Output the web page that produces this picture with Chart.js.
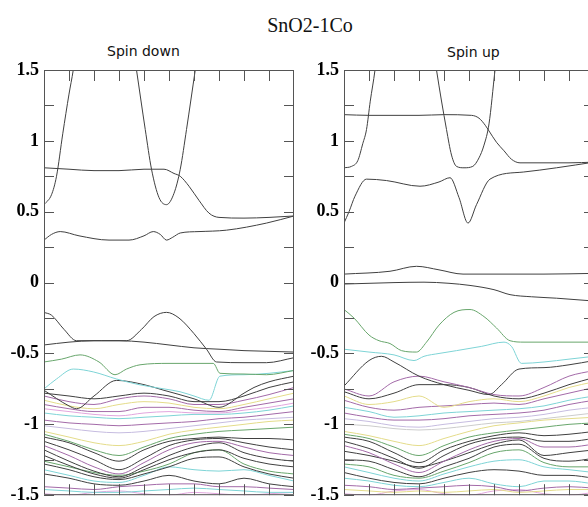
<!DOCTYPE html>
<html>
<head>
<meta charset="utf-8">
<script src="https://cdn.jsdelivr.net/npm/chart.js@4.4.1/dist/chart.umd.min.js"></script>
<style>
  body { margin: 0; width: 588px; height: 507px; overflow: hidden; background: #fff; position: relative; }
  canvas { position: absolute; top: 50px; }
  .txt { position: absolute; white-space: nowrap; color: #111; }
  #title { left: 0; width: 620px; top: 15px; text-align: center; font: 20px/20px "Liberation Serif", serif; }
  #sub1 { left: 107px; top: 44px; font: 14px/14px "DejaVu Sans", sans-serif; }
  #sub2 { left: 447px; top: 45px; font: 14px/14px "DejaVu Sans", sans-serif; }
</style>
</head>
<body>
<div id="title" class="txt">SnO2-1Co</div>
<div id="sub1" class="txt">Spin down</div>
<div id="sub2" class="txt">Spin up</div>
<canvas id="down" width="300" height="461" style="left:0px"></canvas>
<canvas id="up" width="300" height="461" style="left:300px"></canvas>
<script>
// k-path positions (0..10) and energies (eV)
const kGrid = [0, 1, 2, 3, 4, 5, 6, 7, 8, 9, 10];
const yLabels = [1.5, 1, 0.5, 0, -0.5, -1, -1.5];

const BLK = '#404040', PUR = '#a36aa8', YEL = '#e4dc8a', CYA = '#7ed4d6',
      GRN = '#68a66c', PNK = '#e2a6de', LAV = '#c6bce0', GRY = '#cccccc';

// ---- spin down ----
const dnA_k = [0, 0.3, 0.5, 0.75, 1.0, 1.17, 1.4];
const dnA_e = [0.55, 0.62, 0.75, 1.05, 1.33, 1.5, 1.8];
const dnB_k = [3.45, 3.7, 4.05, 4.3, 4.6, 4.9, 5.2, 5.45, 5.7, 6.05, 6.3];
const dnB_e = [1.8, 1.5, 1.08, 0.8, 0.6, 0.55, 0.63, 0.8, 1.08, 1.5, 1.8];
const dnC_k = [0, 1, 2, 3, 4, 4.8, 5.2, 5.45, 5.8, 6.2, 6.6, 7, 8, 9, 10];
const dnC_e = [0.81, 0.80, 0.79, 0.79, 0.80, 0.80, 0.77, 0.75, 0.68, 0.58, 0.49, 0.46, 0.455, 0.46, 0.47];
const dnD_k = [0, 0.3, 0.65, 1.4, 2.6, 3.4, 4.0, 4.37, 4.65, 4.9, 5.15, 5.45, 6.2, 7.3, 8.9, 10];
const dnD_e = [0.30, 0.34, 0.36, 0.33, 0.30, 0.30, 0.33, 0.36, 0.34, 0.30, 0.32, 0.35, 0.36, 0.37, 0.42, 0.47];
const dnE_k = [0, 0.3, 0.8, 1.3, 2.3, 3.3, 3.9, 4.4, 4.9, 5.4, 6.0, 6.5, 6.9, 8, 8.9, 10];
const dnE_e = [-0.21, -0.23, -0.33, -0.41, -0.41, -0.41, -0.33, -0.24, -0.21, -0.25, -0.36, -0.47, -0.56, -0.565, -0.565, -0.53];
const dnF_e = [-0.44, -0.42, -0.41, -0.41, -0.42, -0.44, -0.46, -0.47, -0.48, -0.485, -0.49];
const dnG_k = [0, 0.7, 1.44, 2.2, 2.84, 3.3, 3.84, 5, 6.0, 6.77, 7.04, 8, 8.9, 10];
const dnG_e = [-0.56, -0.54, -0.51, -0.56, -0.65, -0.61, -0.58, -0.57, -0.57, -0.57, -0.64, -0.645, -0.65, -0.62];
const dnH_k = [0, 0.5, 1.17, 1.97, 2.9, 3.8, 4.8, 5.44, 6.0, 6.6, 7.04, 8, 9, 10];
const dnH_e = [-0.75, -0.68, -0.61, -0.63, -0.68, -0.72, -0.75, -0.77, -0.80, -0.83, -0.66, -0.65, -0.64, -0.62];
const dnI_k = [0, 1, 1.3, 2, 2.9, 4, 4.8, 6, 7, 8, 8.4, 9, 10];
const dnI_e = [-0.76, -0.87, -0.89, -0.80, -0.69, -0.72, -0.76, -0.82, -0.88, -0.78, -0.74, -0.70, -0.66];
// dense valence bands on kGrid: [colour, energies]
const dnBands = [
  [BLK, [-0.78, -0.80, -0.82, -0.80, -0.78, -0.80, -0.84, -0.84, -0.80, -0.74, -0.70]],
  [PUR, [-0.80, -0.84, -0.86, -0.82, -0.80, -0.82, -0.86, -0.86, -0.83, -0.79, -0.74]],
  [YEL, [-0.83, -0.87, -0.89, -0.86, -0.84, -0.85, -0.88, -0.89, -0.86, -0.82, -0.78]],
  [PUR, [-0.86, -0.89, -0.91, -0.91, -0.88, -0.88, -0.90, -0.91, -0.88, -0.85, -0.82]],
  [PNK, [-0.89, -0.91, -0.93, -0.94, -0.92, -0.91, -0.92, -0.92, -0.90, -0.88, -0.85]],
  [CYA, [-0.92, -0.94, -0.95, -0.96, -0.95, -0.94, -0.93, -0.93, -0.92, -0.90, -0.87]],
  [PUR, [-0.97, -0.99, -1.00, -1.01, -1.00, -0.99, -0.98, -0.96, -0.95, -0.93, -0.91]],
  [LAV, [-1.01, -1.03, -1.05, -1.06, -1.05, -1.03, -1.01, -0.99, -0.97, -0.96, -0.95]],
  [YEL, [-1.05, -1.09, -1.13, -1.15, -1.12, -1.07, -1.04, -1.02, -1.00, -0.98, -0.97]],
  [GRN, [-1.07, -1.12, -1.18, -1.22, -1.16, -1.10, -1.07, -1.05, -1.04, -1.03, -1.02]],
  [BLK, [-1.09, -1.13, -1.20, -1.26, -1.18, -1.12, -1.10, -1.09, -1.10, -1.10, -1.11]],
  [BLK, [-1.12, -1.18, -1.25, -1.32, -1.24, -1.15, -1.11, -1.10, -1.13, -1.16, -1.18]],
  [PUR, [-1.15, -1.22, -1.30, -1.35, -1.27, -1.18, -1.13, -1.12, -1.16, -1.20, -1.22]],
  [BLK, [-1.18, -1.26, -1.33, -1.37, -1.30, -1.22, -1.16, -1.13, -1.20, -1.24, -1.26]],
  [BLK, [-1.22, -1.29, -1.35, -1.38, -1.32, -1.25, -1.20, -1.18, -1.24, -1.28, -1.30]],
  [GRN, [-1.26, -1.30, -1.34, -1.36, -1.33, -1.28, -1.20, -1.18, -1.28, -1.33, -1.35]],
  [BLK, [-1.28, -1.32, -1.37, -1.39, -1.35, -1.30, -1.24, -1.23, -1.30, -1.35, -1.38]],
  [CYA, [-1.32, -1.36, -1.40, -1.41, -1.36, -1.30, -1.32, -1.33, -1.32, -1.36, -1.40]],
  [BLK, [-1.35, -1.38, -1.42, -1.43, -1.40, -1.36, -1.40, -1.42, -1.38, -1.42, -1.44]],
  [PUR, [-1.44, -1.45, -1.46, -1.44, -1.43, -1.42, -1.42, -1.44, -1.44, -1.45, -1.46]],
  [CYA, [-1.46, -1.47, -1.48, -1.48, -1.47, -1.46, -1.45, -1.46, -1.47, -1.48, -1.48]],
  [PNK, [-1.49, -1.50, -1.48, -1.47, -1.49, -1.50, -1.48, -1.49, -1.50, -1.49, -1.48]]
];

// ---- spin up ----
const upA_k = [0, 0.3, 0.55, 0.75, 0.9, 1.05, 1.24, 1.4];
const upA_e = [0.81, 0.82, 0.86, 0.98, 1.08, 1.28, 1.5, 1.75];
const upB_k = [3.5, 3.7, 4.1, 4.3, 4.5, 4.8, 5.15, 5.4, 5.6, 5.8, 6.04, 6.2];
const upB_e = [1.75, 1.5, 1.08, 0.9, 0.82, 0.81, 0.82, 0.88, 0.97, 1.12, 1.5, 1.75];
const upC_k = [0, 1, 2, 3, 4, 5.1, 5.4, 5.65, 5.8, 6.1, 6.4, 6.7, 7.04, 8, 9, 10];
const upC_e = [1.185, 1.18, 1.18, 1.18, 1.185, 1.18, 1.16, 1.11, 1.07, 0.99, 0.93, 0.87, 0.845, 0.845, 0.845, 0.85];
const upD_k = [0, 0.2, 0.44, 0.9, 1.7, 3.04, 3.8, 4.24, 4.6, 4.96, 5.3, 5.84, 7.17, 8.5, 10];
const upD_e = [0.42, 0.5, 0.61, 0.73, 0.72, 0.68, 0.71, 0.74, 0.6, 0.42, 0.55, 0.73, 0.78, 0.81, 0.85];
const upE_k = [0, 1.84, 2.9, 3.8, 4.76, 6, 8, 10];
const upE_e = [0.06, 0.08, 0.115, 0.09, 0.06, 0.06, 0.06, 0.065];
const upF_k = [0, 1, 2, 3.2, 4.2, 5.04, 6, 6.64, 7.5, 8.5, 10];
const upF_e = [-0.01, -0.005, 0.0, 0.003, -0.005, -0.02, -0.05, -0.085, -0.1, -0.11, -0.13];
const upG_k = [0, 0.4, 1.0, 1.4, 1.84, 2.3, 2.9, 3.3, 3.8, 4.4, 5.04, 5.6, 6.1, 6.64, 7.2, 8, 9, 10];
const upG_e = [-0.19, -0.25, -0.37, -0.41, -0.43, -0.48, -0.49, -0.42, -0.3, -0.21, -0.19, -0.24, -0.32, -0.41, -0.42, -0.42, -0.42, -0.42];
const upH_k = [0, 1, 2, 2.8, 3.2, 3.8, 4.5, 5.5, 6.4, 6.7, 7.1, 8, 9, 10];
const upH_e = [-0.47, -0.49, -0.51, -0.55, -0.52, -0.50, -0.48, -0.45, -0.42, -0.45, -0.57, -0.56, -0.54, -0.52];
const upI_k = [0, 1, 1.5, 2, 3, 4, 5, 5.8, 6.3, 7, 8, 9, 10];
const upI_e = [-0.73, -0.55, -0.52, -0.56, -0.66, -0.72, -0.76, -0.79, -0.72, -0.61, -0.60, -0.58, -0.55];
const upBands = [
  [PUR, [-0.75, -0.80, -0.70, -0.66, -0.70, -0.74, -0.79, -0.80, -0.74, -0.66, -0.62]],
  [BLK, [-0.77, -0.82, -0.78, -0.72, -0.72, -0.74, -0.80, -0.82, -0.78, -0.72, -0.67]],
  [YEL, [-0.80, -0.86, -0.84, -0.80, -0.88, -0.84, -0.82, -0.84, -0.80, -0.74, -0.70]],
  [PUR, [-0.83, -0.88, -0.90, -0.88, -0.87, -0.86, -0.85, -0.86, -0.82, -0.78, -0.74]],
  [CYA, [-0.88, -0.91, -0.95, -0.94, -0.92, -0.91, -0.90, -0.89, -0.87, -0.83, -0.80]],
  [PUR, [-0.92, -0.95, -0.97, -0.97, -0.96, -0.94, -0.93, -0.92, -0.90, -0.86, -0.83]],
  [LAV, [-0.96, -0.98, -1.01, -1.02, -1.00, -0.98, -0.96, -0.95, -0.93, -0.90, -0.88]],
  [GRY, [-1.00, -1.01, -1.03, -1.04, -1.03, -1.01, -0.99, -0.98, -0.96, -0.94, -0.92]],
  [YEL, [-1.05, -1.08, -1.12, -1.15, -1.10, -1.05, -1.01, -0.99, -0.97, -0.96, -0.95]],
  [GRN, [-1.07, -1.10, -1.16, -1.22, -1.15, -1.09, -1.06, -1.04, -1.02, -1.00, -0.99]],
  [BLK, [-1.09, -1.12, -1.20, -1.27, -1.18, -1.12, -1.08, -1.06, -1.08, -1.07, -1.05]],
  [BLK, [-1.12, -1.17, -1.24, -1.31, -1.22, -1.14, -1.10, -1.09, -1.12, -1.12, -1.10]],
  [PUR, [-1.15, -1.20, -1.28, -1.34, -1.26, -1.18, -1.12, -1.10, -1.16, -1.16, -1.14]],
  [BLK, [-1.19, -1.22, -1.26, -1.30, -1.26, -1.20, -1.14, -1.11, -1.22, -1.20, -1.18]],
  [BLK, [-1.25, -1.26, -1.32, -1.37, -1.30, -1.24, -1.16, -1.14, -1.24, -1.26, -1.24]],
  [GRN, [-1.28, -1.30, -1.36, -1.38, -1.33, -1.27, -1.20, -1.18, -1.27, -1.30, -1.30]],
  [CYA, [-1.30, -1.34, -1.38, -1.40, -1.35, -1.30, -1.26, -1.25, -1.30, -1.32, -1.34]],
  [BLK, [-1.34, -1.38, -1.41, -1.42, -1.38, -1.34, -1.32, -1.33, -1.36, -1.36, -1.38]],
  [CYA, [-1.38, -1.40, -1.43, -1.44, -1.41, -1.38, -1.42, -1.44, -1.40, -1.40, -1.42]],
  [PUR, [-1.43, -1.44, -1.46, -1.45, -1.44, -1.43, -1.44, -1.47, -1.45, -1.44, -1.45]],
  [YEL, [-1.46, -1.47, -1.48, -1.47, -1.48, -1.47, -1.46, -1.48, -1.47, -1.46, -1.46]],
  [PNK, [-1.49, -1.50, -1.47, -1.46, -1.49, -1.50, -1.47, -1.46, -1.49, -1.50, -1.48]]
];

function band(ks, es, color) {
  return {
    data: ks.map((k, i) => ({ x: k, y: es[i] })),
    borderColor: color,
    borderWidth: 1,
    pointRadius: 0,
    fill: false,
    cubicInterpolationMode: 'monotone'
  };
}

// frame with inward ticks on all four sides
const framePlugin = {
  id: 'frame',
  afterDatasetsDraw(chart) {
    const { ctx, chartArea: a, scales: { x, y } } = chart;
    ctx.save();
    ctx.strokeStyle = '#555';
    ctx.lineWidth = 1;
    ctx.beginPath();
    ctx.rect(a.left + 0.5, a.top + 0.5, a.right - a.left - 1, a.bottom - a.top - 1);
    for (let i = 0; i <= 12; i++) {
      const p = Math.round(y.getPixelForValue(-1.5 + i * 0.25)) + 0.5;
      ctx.moveTo(a.left, p); ctx.lineTo(a.left + 10, p);
      ctx.moveTo(a.right, p); ctx.lineTo(a.right - 10, p);
    }
    for (let k = 1; k < 10; k++) {
      const p = Math.round(x.getPixelForValue(k)) + 0.5;
      ctx.moveTo(p, a.top); ctx.lineTo(p, a.top + 11);
      ctx.moveTo(p, a.bottom); ctx.lineTo(p, a.bottom - 11);
    }
    ctx.stroke();
    ctx.restore();
  }
};

function makeChart(id, datasets) {
  return new Chart(document.getElementById(id), {
    type: 'line',
    data: { datasets: datasets },
    options: {
      responsive: false,
      animation: false,
      layout: { padding: { left: 0, right: 6, top: 20, bottom: 12 } },
      plugins: { legend: { display: false }, tooltip: { enabled: false } },
      scales: {
        x: { type: 'linear', min: 0, max: 10, display: false },
        y: {
          min: -1.5,
          max: 1.5,
          afterFit: function(scale) { scale.width = 44; },
          grid: { display: false, drawTicks: false },
          border: { display: false },
          ticks: {
            stepSize: 0.5,
            padding: 5,
            color: '#000',
            font: { family: '"Liberation Serif", "Times New Roman", serif', size: 18, weight: 'bold' },
            callback: function(value) {
              return yLabels.includes(value) ? String(value) : '';
            }
          }
        }
      }
    },
    plugins: [framePlugin]
  });
}

const downSets = [
  band(dnA_k, dnA_e, BLK), band(dnB_k, dnB_e, BLK), band(dnC_k, dnC_e, BLK),
  band(dnD_k, dnD_e, BLK), band(dnE_k, dnE_e, BLK), band(kGrid, dnF_e, BLK),
  band(dnG_k, dnG_e, GRN), band(dnH_k, dnH_e, CYA), band(dnI_k, dnI_e, BLK)
].concat(dnBands.map(b => band(kGrid, b[1], b[0])));

const upSets = [
  band(upA_k, upA_e, BLK), band(upB_k, upB_e, BLK), band(upC_k, upC_e, BLK),
  band(upD_k, upD_e, BLK), band(upE_k, upE_e, BLK), band(upF_k, upF_e, BLK),
  band(upG_k, upG_e, GRN), band(upH_k, upH_e, CYA), band(upI_k, upI_e, BLK)
].concat(upBands.map(b => band(kGrid, b[1], b[0])));

makeChart('down', downSets);
makeChart('up', upSets);
</script>
</body>
</html>
